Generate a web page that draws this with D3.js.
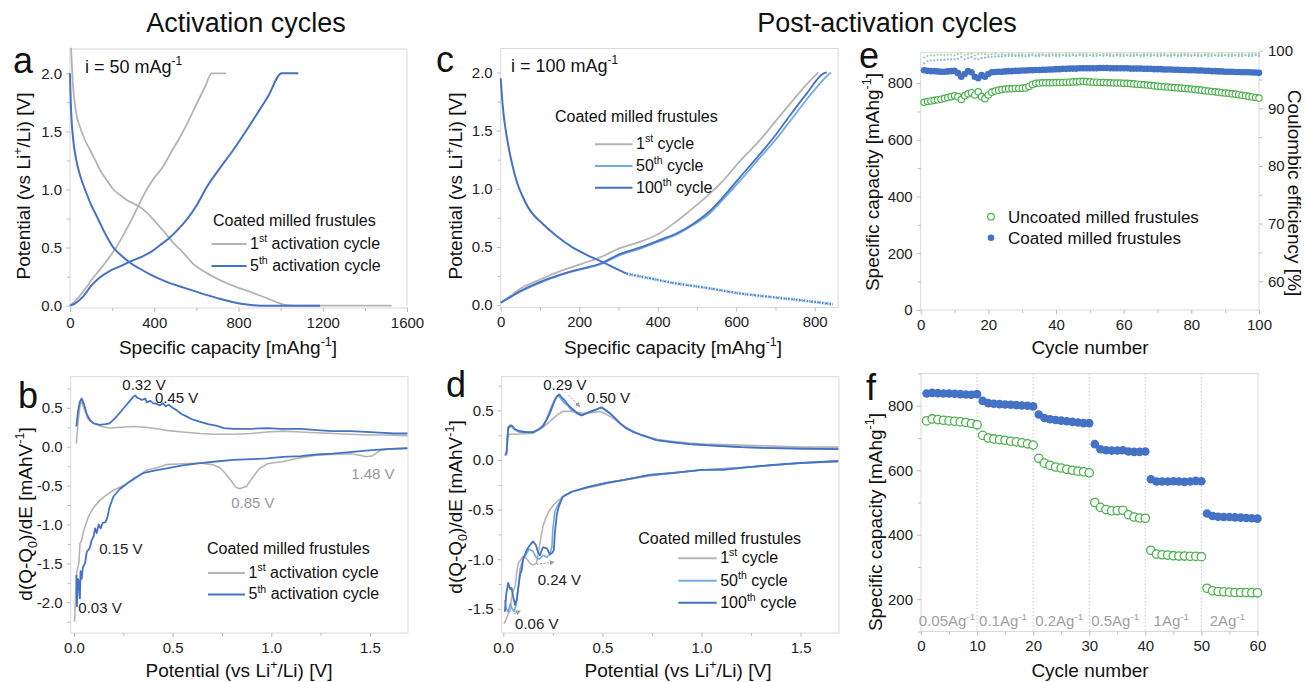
<!DOCTYPE html>
<html>
<head>
<meta charset="utf-8">
<script src="https://cdn.jsdelivr.net/npm/d3@7"></script>
<style>
body { margin: 0; background: #fff; }
svg text { font-family: "Liberation Sans", Arial, sans-serif; }
</style>
</head>
<body>
<div id="fig"></div>
<script>
// ---------- panel a : galvanostatic profiles, activation (capacity, V) ----------
var aDis1 = [[5,2.22],[8,2.1],[14,1.9],[24,1.72],[36,1.6],[47,1.54],[70,1.43],[95,1.34],[120,1.25],[142,1.17],[175,1.08],[206,1.0],[240,0.95],[269,0.91],[300,0.88],[332,0.85],[365,0.8],[396,0.74],[440,0.65],[491,0.54],[540,0.45],[585,0.36],[650,0.28],[712,0.22],[790,0.16],[870,0.11],[940,0.06],[997,0.02],[1030,0.005],[1100,0],[1527,0]];
var aCh1 = [[0,0],[40,0.07],[79,0.16],[110,0.24],[142,0.31],[180,0.4],[222,0.51],[260,0.63],[301,0.77],[330,0.88],[364,1.0],[400,1.1],[443,1.2],[480,1.32],[522,1.45],[560,1.58],[602,1.74],[640,1.88],[673,2.0],[741,2.0]];
var aDis5 = [[0,2.0],[2,1.85],[6,1.65],[14,1.45],[28,1.27],[48,1.12],[71,1.0],[100,0.87],[135,0.74],[170,0.61],[206,0.5],[245,0.43],[285,0.37],[330,0.32],[380,0.27],[420,0.235],[459,0.205],[540,0.155],[617,0.11],[700,0.065],[775,0.03],[850,0.008],[902,0],[1187,0]];
var aCh5 = [[0,0],[25,0.02],[63,0.08],[100,0.17],[140,0.24],[190,0.3],[240,0.34],[285,0.38],[340,0.42],[390,0.47],[427,0.52],[470,0.58],[510,0.65],[554,0.74],[600,0.86],[649,1.02],[710,1.18],[775,1.34],[820,1.46],[870,1.6],[940,1.8],[1005,2.0],[1084,2.0]];

// ---------- panel b : dQ/dE activation (V, mAh/V) ----------
var bDe1 = [[0.012,0.04],[0.02,0.3],[0.03,0.52],[0.038,0.6],[0.05,0.5],[0.07,0.36],[0.1,0.3],[0.14,0.26],[0.18,0.24],[0.24,0.25],[0.3,0.26],[0.36,0.25],[0.42,0.23],[0.47,0.21],[0.55,0.19],[0.64,0.17],[0.72,0.16],[0.81,0.16],[0.9,0.17],[0.98,0.19],[1.06,0.2],[1.15,0.19],[1.23,0.18],[1.31,0.17],[1.4,0.16],[1.48,0.15],[1.58,0.15],[1.69,0.14]];
var bDe5 = [[0.012,0.26],[0.02,0.45],[0.03,0.58],[0.039,0.62],[0.05,0.55],[0.065,0.42],[0.081,0.34],[0.1,0.3],[0.13,0.28],[0.16,0.29],[0.18,0.3],[0.21,0.37],[0.23,0.43],[0.26,0.52],[0.28,0.58],[0.3,0.64],[0.31,0.66],[0.32,0.63],[0.33,0.62],[0.345,0.6],[0.36,0.62],[0.37,0.57],[0.385,0.59],[0.4,0.56],[0.42,0.55],[0.435,0.53],[0.45,0.56],[0.465,0.52],[0.48,0.54],[0.5,0.5],[0.52,0.47],[0.545,0.42],[0.57,0.39],[0.6,0.35],[0.64,0.32],[0.68,0.29],[0.72,0.27],[0.76,0.24],[0.81,0.23],[0.9,0.23],[0.98,0.24],[1.05,0.23],[1.15,0.23],[1.25,0.21],[1.31,0.2],[1.4,0.2],[1.48,0.19],[1.55,0.18],[1.62,0.17],[1.69,0.17]];
var bLi1 = [[0.003,-2.25],[0.008,-1.9],[0.015,-1.6],[0.025,-1.5],[0.03,-1.25],[0.039,-1.2],[0.047,-1.1],[0.056,-1.03],[0.07,-0.92],[0.081,-0.86],[0.1,-0.78],[0.13,-0.69],[0.16,-0.63],[0.2,-0.56],[0.25,-0.5],[0.3,-0.43],[0.34,-0.35],[0.37,-0.3],[0.42,-0.27],[0.47,-0.23],[0.55,-0.22],[0.64,-0.21],[0.7,-0.23],[0.74,-0.27],[0.77,-0.35],[0.8,-0.45],[0.82,-0.52],[0.84,-0.54],[0.86,-0.52],[0.875,-0.51],[0.89,-0.45],[0.91,-0.38],[0.94,-0.28],[0.98,-0.22],[1.06,-0.19],[1.15,-0.14],[1.23,-0.11],[1.31,-0.1],[1.4,-0.09],[1.45,-0.11],[1.48,-0.13],[1.51,-0.12],[1.55,-0.05],[1.6,-0.03],[1.69,-0.02]];
var bLi5 = [[0.012,-1.65],[0.015,-2.05],[0.02,-1.7],[0.025,-1.75],[0.03,-1.95],[0.033,-1.6],[0.039,-1.7],[0.045,-1.55],[0.056,-1.5],[0.065,-1.35],[0.075,-1.32],[0.081,-1.29],[0.09,-1.2],[0.1,-1.15],[0.107,-1.05],[0.115,-1.11],[0.125,-1.0],[0.135,-1.05],[0.145,-0.98],[0.16,-0.97],[0.17,-0.9],[0.18,-0.78],[0.2,-0.64],[0.23,-0.55],[0.27,-0.47],[0.31,-0.4],[0.35,-0.34],[0.4,-0.31],[0.47,-0.28],[0.55,-0.24],[0.64,-0.21],[0.72,-0.19],[0.81,-0.17],[0.9,-0.16],[0.98,-0.15],[1.06,-0.13],[1.15,-0.12],[1.23,-0.1],[1.31,-0.09],[1.4,-0.07],[1.48,-0.05],[1.58,-0.03],[1.69,-0.02]];
var bNotes = [["0.32 V",0.355,0.73,"#222"],["0.45 V",0.52,0.565,"#222"],["0.85 V",0.907,-0.79,"#999"],["1.48 V",1.515,-0.415,"#999"],["0.15 V",0.238,-1.375,"#222"],["0.03 V",0.132,-2.14,"#222"]];

// ---------- panel c : galvanostatic profiles, post-activation ----------
var cDis100 = [[0,1.95],[3,1.8],[7,1.65],[13,1.5],[20,1.36],[30,1.2],[42,1.05],[55,0.94],[70,0.84],[85,0.77],[100,0.72],[140,0.6],[181,0.5],[220,0.43],[253,0.38],[290,0.32],[321,0.27],[380,0.23],[440,0.19],[520,0.15],[610,0.1],[700,0.065],[780,0.035],[847,0.006]];
var cCh1 = [[0,0.02],[25,0.08],[50,0.14],[100,0.22],[150,0.29],[202,0.35],[253,0.41],[304,0.49],[360,0.55],[406,0.62],[440,0.7],[474,0.79],[520,0.92],[567,1.07],[610,1.24],[661,1.42],[700,1.58],[737,1.73],[775,1.88],[809,2.0]];
var cCh50 = [[0,0.02],[25,0.07],[50,0.115],[100,0.19],[150,0.255],[202,0.305],[253,0.35],[304,0.43],[360,0.49],[406,0.55],[450,0.61],[491,0.69],[530,0.78],[567,0.91],[610,1.07],[661,1.27],[700,1.42],[737,1.58],[780,1.77],[820,1.93],[841,2.0]];
var cCh100 = [[0,0.02],[25,0.07],[50,0.12],[100,0.2],[150,0.26],[202,0.31],[253,0.355],[304,0.44],[360,0.5],[406,0.56],[450,0.62],[491,0.7],[530,0.8],[567,0.93],[610,1.1],[661,1.3],[700,1.46],[737,1.63],[780,1.82],[822,1.99],[831,2.0]];

// ---------- panel d : dQ/dE post-activation ----------
var dDe1 = [[0.01,0.05],[0.017,0.1],[0.022,0.22],[0.03,0.26],[0.068,0.26],[0.15,0.27],[0.2,0.33],[0.235,0.39],[0.27,0.45],[0.3,0.49],[0.33,0.49],[0.35,0.49],[0.4,0.47],[0.45,0.48],[0.49,0.49],[0.52,0.46],[0.555,0.42],[0.6,0.35],[0.656,0.29],[0.7,0.25],[0.774,0.21],[0.85,0.19],[0.94,0.17],[1.02,0.16],[1.2,0.15],[1.36,0.14],[1.5,0.13],[1.69,0.13]];
var dDe50 = [[0.01,0.04],[0.017,0.08],[0.022,0.26],[0.027,0.32],[0.04,0.34],[0.06,0.3],[0.084,0.28],[0.12,0.28],[0.15,0.28],[0.18,0.31],[0.2,0.35],[0.22,0.42],[0.235,0.5],[0.25,0.57],[0.262,0.62],[0.275,0.65],[0.29,0.62],[0.305,0.58],[0.325,0.55],[0.345,0.5],[0.37,0.47],[0.395,0.45],[0.42,0.47],[0.446,0.5],[0.47,0.51],[0.49,0.53],[0.51,0.51],[0.535,0.47],[0.56,0.43],[0.59,0.37],[0.62,0.32],[0.656,0.28],[0.7,0.25],[0.774,0.2],[0.85,0.18],[0.94,0.16],[1.02,0.15],[1.11,0.14],[1.2,0.13],[1.36,0.12],[1.5,0.115],[1.69,0.11]];
var dDe100 = [[0.01,0.05],[0.017,0.07],[0.022,0.25],[0.025,0.33],[0.035,0.35],[0.042,0.35],[0.06,0.31],[0.084,0.29],[0.12,0.28],[0.15,0.28],[0.18,0.31],[0.2,0.34],[0.22,0.41],[0.235,0.47],[0.25,0.55],[0.26,0.6],[0.27,0.64],[0.283,0.66],[0.295,0.63],[0.31,0.6],[0.325,0.56],[0.345,0.52],[0.37,0.48],[0.395,0.45],[0.42,0.47],[0.446,0.49],[0.47,0.51],[0.497,0.53],[0.52,0.5],[0.54,0.47],[0.565,0.42],[0.59,0.37],[0.62,0.32],[0.656,0.285],[0.7,0.25],[0.774,0.2],[0.85,0.18],[0.94,0.16],[1.02,0.15],[1.11,0.14],[1.2,0.13],[1.36,0.12],[1.5,0.115],[1.69,0.11]];
var dLi1 = [[0.005,-1.65],[0.015,-1.6],[0.025,-1.55],[0.034,-1.52],[0.045,-1.35],[0.06,-1.27],[0.07,-1.1],[0.076,-1.04],[0.09,-1.0],[0.1,-0.97],[0.12,-1.0],[0.135,-1.04],[0.15,-1.06],[0.168,-1.04],[0.18,-0.9],[0.19,-0.78],[0.2,-0.67],[0.215,-0.58],[0.235,-0.5],[0.26,-0.44],[0.3,-0.37],[0.345,-0.32],[0.43,-0.28],[0.52,-0.24],[0.61,-0.2],[0.74,-0.16],[0.86,-0.13],[1.0,-0.1],[1.25,-0.07],[1.5,-0.03],[1.69,-0.02]];
var dLi50 = [[0.008,-1.41],[0.015,-1.5],[0.025,-1.53],[0.035,-1.45],[0.045,-1.5],[0.055,-1.53],[0.065,-1.45],[0.075,-1.3],[0.085,-1.1],[0.1,-1.0],[0.115,-0.95],[0.13,-0.9],[0.15,-0.92],[0.165,-0.98],[0.18,-1.0],[0.2,-0.96],[0.22,-0.98],[0.235,-0.95],[0.245,-0.88],[0.25,-0.7],[0.26,-0.52],[0.28,-0.44],[0.3,-0.37],[0.345,-0.32],[0.43,-0.27],[0.52,-0.23],[0.61,-0.2],[0.74,-0.15],[0.86,-0.13],[1.0,-0.1],[1.25,-0.07],[1.5,-0.03],[1.69,-0.01]];
var dLi100 = [[0.008,-1.53],[0.015,-1.35],[0.025,-1.24],[0.035,-1.3],[0.042,-1.29],[0.05,-1.38],[0.059,-1.46],[0.068,-1.41],[0.075,-1.3],[0.085,-1.15],[0.093,-1.11],[0.1,-1.0],[0.11,-0.95],[0.118,-0.91],[0.13,-0.87],[0.15,-0.82],[0.165,-0.86],[0.175,-0.93],[0.185,-0.96],[0.2,-0.88],[0.22,-0.89],[0.235,-0.95],[0.245,-0.94],[0.255,-0.91],[0.26,-0.74],[0.27,-0.55],[0.28,-0.47],[0.3,-0.37],[0.345,-0.32],[0.43,-0.27],[0.52,-0.23],[0.61,-0.2],[0.74,-0.15],[0.86,-0.13],[1.0,-0.1],[1.11,-0.1],[1.25,-0.07],[1.36,-0.05],[1.5,-0.03],[1.69,-0.01]];
var dNotes = [["0.29 V",0.311,0.706],["0.50 V",0.53,0.578],["0.24 V",0.283,-1.26],["0.06 V",0.169,-1.707]];
var dArrows = [[0.33,0.655,0.385,0.54],[0.168,-1.05,0.255,-1.03],[0.055,-1.55,0.085,-1.52]];

// ---------- panel e : long cycling (cycle 1..100) ----------
var eCoated = [845,843,842,842,841,840,840,841,842,843, 835,822,832,842,838,822,817,828,822,832,
  838,839,840,840,841,842,842,843,843,844, 844,845,845,846,846,847,847,848,848,849,
  849,850,850,851,851,851,852,852,852,852, 852,852,853,853,853,852,852,852,852,852,
  852,851,851,851,851,850,850,850,849,849, 849,848,848,848,847,847,846,846,845,845,
  845,844,844,843,843,842,842,841,841,840, 840,840,839,839,838,838,838,837,837,836];
var eUncoated = [732,735,737,739,741,743,746,749,752,755, 752,742,756,762,766,758,769,752,745,758,
  768,772,775,777,779,780,780,781,781,782, 783,788,795,799,800,801,801,801,801,802,
  802,802,803,803,804,804,805,806,805,804, 803,803,802,802,801,801,800,800,800,799,
  799,798,797,796,795,794,793,792,790,789, 788,787,786,785,784,783,782,781,780,779,
  777,776,775,773,772,770,769,768,766,765, 764,762,761,759,757,755,753,751,749,747];
var ceUncoated = [98.8,99.1,99.2,99.2,99.3,99.3,99.2,99.3,99.3,99.2, 99.4,99.5,99.3,99.4,99.5,99.2,99.4,99.5,99.4,99.3,
  99.4,99.5,99.3,99.4,99.3,99.4,99.4,99.3,99.4,99.4, 99.3,99.4,99.4,99.3,99.4,99.4,99.3,99.4,99.4,99.4,
  99.4,99.3,99.4,99.4,99.4,99.3,99.4,99.4,99.4,99.3, 99.4,99.4,99.3,99.4,99.4,99.4,99.3,99.4,99.4,99.4,
  99.3,99.4,99.4,99.4,99.3,99.4,99.4,99.4,99.3,99.4, 99.4,99.4,99.3,99.4,99.4,99.3,99.4,99.4,99.4,99.3,
  99.4,99.4,99.3,99.4,99.4,99.4,99.3,99.4,99.4,99.3, 99.4,99.4,99.3,99.4,99.4,99.3,99.4,99.4,99.4,99.5];
var ceCoated = [97.8,98.2,98.3,98.3,98.4,98.4,98.4,98.5,98.5,98.5, 98.6,98.9,98.5,98.7,98.9,98.6,98.5,98.7,98.8,98.9,
  98.9,99.0,99.0,99.0,99.1,99.1,99.1,99.1,99.1,99.1, 99.0,99.1,99.2,99.1,99.1,99.2,99.1,99.1,99.2,99.1,
  99.1,99.2,99.1,99.1,99.2,99.1,99.2,99.1,99.1,99.2, 99.1,99.1,99.2,99.1,99.2,99.1,99.1,99.2,99.1,99.1,
  99.2,99.1,99.1,99.2,99.1,99.1,99.2,99.1,99.2,99.1, 99.1,99.2,99.1,99.1,99.2,99.1,99.1,99.2,99.1,99.1,
  99.2,99.1,99.1,99.2,99.1,99.1,99.2,99.1,99.1,99.2, 99.1,99.1,99.2,99.1,99.1,99.2,99.1,99.1,99.2,99.1];

// ---------- panel f : rate capability (cycle 1..60) ----------
var fCoated = [838,840,839,838,838,837,836,835,834,836, 815,808,806,805,804,803,802,801,800,798,
  773,762,758,756,754,752,750,748,746,746, 681,665,662,661,661,662,658,657,657,658,
  572,565,565,565,566,565,564,565,567,566, 466,458,456,455,455,454,453,452,451,450];
var fUncoated = [753,759,757,755,753,752,750,748,745,741, 708,700,697,695,693,690,688,685,682,678,
  637,622,615,610,607,603,600,597,595,592, 500,485,478,474,475,476,462,455,452,451,
  352,340,338,337,335,334,334,333,333,332, 234,226,224,223,222,221,221,221,220,220];
var fRates = ["0.05Ag", "0.1Ag", "0.2Ag", "0.5Ag", "1Ag", "2Ag"];

var GRAY = '#b4b4b4', BLUE = '#4472c4', LBLUE = '#74aae3', GREEN = '#4cb14e';

var svg = d3.select('#fig').append('svg').attr('width', 1306).attr('height', 682);

// text with super/subscripts. parts: strings or [str,'sup'|'sub']
function rich(t, parts, size) {
  var cur = 0;
  parts.forEach(function(p) {
    var s = typeof p === 'string' ? p : p[0];
    var kind = typeof p === 'string' ? '' : p[1];
    var want = kind === 'sup' ? -0.42 * size : kind === 'sub' ? 0.28 * size : 0;
    var ts = t.append('tspan').text(s).attr('dy', want - cur);
    if (kind) ts.attr('font-size', size * 0.66);
    cur = want;
  });
  return t;
}
function label(x, y, parts, size, opt) {
  opt = opt || {};
  var t = svg.append('text').attr('font-size', size).attr('fill', opt.fill || '#111')
    .attr('text-anchor', opt.anchor || 'start');
  if (opt.rot) t.attr('transform', 'translate(' + x + ',' + y + ') rotate(' + opt.rot + ')');
  else t.attr('x', x).attr('y', y);
  return rich(t, parts, size);
}

function styleAxis(g, fs) {
  g.attr('font-size', fs).attr('font-family', null);
  g.select('.domain').remove();
  g.selectAll('line').attr('stroke', '#bdbdbd');
  g.selectAll('text').attr('fill', '#222');
}

function panel(o) {
  var x = d3.scaleLinear().domain(o.xd).range([o.l, o.r]);
  var y = d3.scaleLinear().domain(o.yd).range([o.b, o.t]);
  var g = svg.append('g');
  g.append('rect').attr('x', o.l).attr('y', o.t).attr('width', o.r - o.l).attr('height', o.b - o.t)
    .attr('fill', 'none').attr('stroke', '#dadada');
  var fx = o.fx || function(d) { return d; };
  var fy = o.fy || function(d) { return d; };
  var gx = g.append('g').attr('transform', 'translate(0,' + o.b + ')')
    .call(d3.axisBottom(x).tickValues(o.xt).tickSize(4).tickPadding(5).tickFormat(fx));
  styleAxis(gx, 15);
  var gy = g.append('g').attr('transform', 'translate(' + o.l + ',0)')
    .call(d3.axisLeft(y).tickValues(o.yt).tickSize(4).tickPadding(4).tickFormat(fy));
  styleAxis(gy, 15);
  if (o.xm) styleAxis(g.append('g').attr('transform', 'translate(0,' + o.b + ')')
    .call(d3.axisBottom(x).tickValues(o.xm).tickSize(3).tickFormat('')), 15);
  if (o.ym) styleAxis(g.append('g').attr('transform', 'translate(' + o.l + ',0)')
    .call(d3.axisLeft(y).tickValues(o.ym).tickSize(3).tickFormat('')), 15);
  return { x: x, y: y, g: g };
}

function curve(p, data, color, w, smooth, dash) {
  var line = d3.line().x(function(d) { return p.x(d[0]); }).y(function(d) { return p.y(d[1]); });
  if (smooth) line.curve(d3.curveMonotoneX);
  var path = p.g.append('path').datum(data).attr('d', line).attr('fill', 'none')
    .attr('stroke', color).attr('stroke-width', w).attr('stroke-linejoin', 'round');
  if (dash) path.attr('stroke-dasharray', dash);
  return path;
}

function legendLine(x1, x2, yy, color, parts) {
  svg.append('line').attr('x1', x1).attr('x2', x2).attr('y1', yy).attr('y2', yy)
    .attr('stroke', color).attr('stroke-width', 2);
  label(x2 + 3.5, yy + 4.8, parts, 16);
}

var f1 = function(d) { return d.toFixed(1); };

// ---------------- titles and panel letters ----------------
label(246, 32, ['Activation cycles'], 27, { anchor: 'middle' });
label(887, 32, ['Post-activation cycles'], 27, { anchor: 'middle' });
[['a', 13, 73], ['b', 18, 408], ['c', 436, 72], ['d', 446, 397], ['e', 859, 68], ['f', 866, 400]]
  .forEach(function(l) { label(l[1], l[2], [l[0]], 36); });

// ---------------- panel a ----------------
var pa = panel({ l: 70, r: 407, t: 49, b: 308, xd: [0, 1600], yd: [-0.02, 2.209],
  xt: [0, 400, 800, 1200, 1600], xm: [200, 600, 1000, 1400],
  yt: [0, 0.5, 1, 1.5, 2], ym: [0.25, 0.75, 1.25, 1.75], fy: f1 });
curve(pa, aDis1, GRAY, 1.8, true);
curve(pa, aCh1, GRAY, 1.8, true);
curve(pa, aDis5, BLUE, 2, true);
curve(pa, aCh5, BLUE, 2, true);
label(85, 73, ['i = 50 mAg', ['-1', 'sup']], 18);
label(213, 226, ['Coated milled frustules'], 16);
legendLine(211.5, 246.5, 244, GRAY, ['1', ['st', 'sup'], ' activation cycle']);
legendLine(211.5, 246.5, 266, BLUE, ['5', ['th', 'sup'], ' activation cycle']);
label(228, 354, ['Specific capacity [mAhg', ['-1', 'sup'], ']'], 19, { anchor: 'middle' });
label(30, 186, ['Potential (vs Li', ['+', 'sup'], '/Li) [V]'], 19, { anchor: 'middle', rot: -90 });

// ---------------- panel b ----------------
var pb = panel({ l: 70.7, r: 408, t: 376.7, b: 633, xd: [-0.0167, 1.693], yd: [-2.395, 0.9],
  xt: [0, 0.5, 1, 1.5], xm: [0.25, 0.75, 1.25], yt: [-2, -1.5, -1, -0.5, 0, 0.5],
  ym: [-2.25, -1.75, -1.25, -0.75, -0.25, 0.25, 0.75], fx: f1, fy: f1 });
curve(pb, bDe1, GRAY, 1.6);
curve(pb, bLi1, GRAY, 1.6);
curve(pb, bDe5, BLUE, 1.8);
curve(pb, bLi5, BLUE, 1.8);
bNotes.forEach(function(n) {
  label(pb.x(n[1]), pb.y(n[2]), [n[0]], 15, { anchor: 'middle', fill: n[3] });
});
label(207, 554, ['Coated milled frustules'], 16);
legendLine(208, 245, 573, GRAY, ['1', ['st', 'sup'], ' activation cycle']);
legendLine(208, 245, 594.5, BLUE, ['5', ['th', 'sup'], ' activation cycle']);
label(239, 677, ['Potential (vs Li', ['+', 'sup'], '/Li) [V]'], 19, { anchor: 'middle' });
label(32, 514, ['d(Q-Q', ['0', 'sub'], ')/dE [mAhV', ['-1', 'sup'], ']'], 19, { anchor: 'middle', rot: -90 });

// ---------------- panel c ----------------
var pc = panel({ l: 500.7, r: 838, t: 48.5, b: 307.5, xd: [0, 859.4], yd: [-0.021, 2.206],
  xt: [0, 200, 400, 600, 800], xm: [100, 300, 500, 700],
  yt: [0, 0.5, 1, 1.5, 2], ym: [0.25, 0.75, 1.25, 1.75], fy: f1 });
curve(pc, cCh1, GRAY, 1.8, true);
curve(pc, cCh50, LBLUE, 1.8, true);
curve(pc, cCh100, BLUE, 1.8, true);
curve(pc, cDis100.filter(function(d) { return d[0] <= 321; }), BLUE, 2, true);
curve(pc, cDis100.filter(function(d) { return d[0] >= 321; }), LBLUE, 3, true, '1.4,1.2');
curve(pc, cDis100.filter(function(d) { return d[0] >= 321; }), BLUE, 1.6, true, '1.4,2.4');
label(511, 72, ['i = 100 mAg', ['-1', 'sup']], 18);
label(555, 122, ['Coated milled frustules'], 16);
legendLine(595, 632.5, 144.3, GRAY, ['1', ['st', 'sup'], ' cycle']);
legendLine(595, 632.5, 166, LBLUE, ['50', ['th', 'sup'], ' cycle']);
legendLine(595, 632.5, 187.7, BLUE, ['100', ['th', 'sup'], ' cycle']);
label(673, 354, ['Specific capacity [mAhg', ['-1', 'sup'], ']'], 19, { anchor: 'middle' });
label(462, 186, ['Potential (vs Li', ['+', 'sup'], '/Li) [V]'], 19, { anchor: 'middle', rot: -90 });

// ---------------- panel d ----------------
var pd = panel({ l: 501.7, r: 839, t: 376.7, b: 633, xd: [-0.008, 1.694], yd: [-1.744, 0.84],
  xt: [0, 0.5, 1, 1.5], xm: [0.25, 0.75, 1.25], yt: [-1.5, -1, -0.5, 0, 0.5],
  ym: [-1.25, -0.75, -0.25, 0.25, 0.75], fx: f1, fy: f1 });
curve(pd, dDe1, GRAY, 1.6);
curve(pd, dLi1, GRAY, 1.6);
curve(pd, dDe50, LBLUE, 1.6);
curve(pd, dLi50, LBLUE, 1.6);
curve(pd, dDe100, BLUE, 1.8);
curve(pd, dLi100, BLUE, 1.8);
svg.append('defs').append('marker').attr('id', 'ah').attr('viewBox', '0 0 6 6')
  .attr('refX', 5).attr('refY', 3).attr('markerWidth', 5).attr('markerHeight', 5).attr('orient', 'auto')
  .append('path').attr('d', 'M0,0L6,3L0,6Z').attr('fill', '#999');
dArrows.forEach(function(a) {
  pd.g.append('line').attr('x1', pd.x(a[0])).attr('y1', pd.y(a[1])).attr('x2', pd.x(a[2])).attr('y2', pd.y(a[3]))
    .attr('stroke', '#999').attr('stroke-width', 1).attr('stroke-dasharray', '2,1.5').attr('marker-end', 'url(#ah)');
});
dNotes.forEach(function(n) { label(pd.x(n[1]), pd.y(n[2]), [n[0]], 15, { anchor: 'middle', fill: '#222' }); });
label(638.3, 543.5, ['Coated milled frustules'], 16);
legendLine(678.3, 716.7, 558.3, GRAY, ['1', ['st', 'sup'], ' cycle']);
legendLine(678.3, 716.7, 580.7, LBLUE, ['50', ['th', 'sup'], ' cycle']);
legendLine(678.3, 716.7, 602.7, BLUE, ['100', ['th', 'sup'], ' cycle']);
label(678, 677, ['Potential (vs Li', ['+', 'sup'], '/Li) [V]'], 19, { anchor: 'middle' });
label(462, 507, ['d(Q-Q', ['0', 'sub'], ')/dE [mAhV', ['-1', 'sup'], ']'], 19, { anchor: 'middle', rot: -90 });

// ---------------- panel e ----------------
var pe = panel({ l: 920.7, r: 1259, t: 52.7, b: 310, xd: [0, 100], yd: [0, 907],
  xt: [0, 20, 40, 60, 80, 100], xm: [10, 30, 50, 70, 90],
  yt: [0, 200, 400, 600, 800], ym: [100, 300, 500, 700] });
var yR = d3.scaleLinear().domain([55, 100]).range([310, 50.7]);
var gr = pe.g.append('g').attr('transform', 'translate(1259,0)')
  .call(d3.axisRight(yR).tickValues([60, 70, 80, 90, 100]).tickSize(4).tickPadding(5));
styleAxis(gr, 15);
styleAxis(pe.g.append('g').attr('transform', 'translate(1259,0)')
  .call(d3.axisRight(yR).tickValues([65, 75, 85, 95]).tickSize(3).tickFormat('')), 15);
pe.g.append('g').selectAll('circle').data(ceCoated).enter().append('circle')
  .attr('cx', function(d, i) { return pe.x(i + 1); }).attr('cy', function(d) { return yR(d); })
  .attr('r', 1.1).attr('fill', '#8db6e6');
pe.g.append('g').selectAll('circle').data(ceUncoated).enter().append('circle')
  .attr('cx', function(d, i) { return pe.x(i + 1); }).attr('cy', function(d) { return yR(d); })
  .attr('r', 1.1).attr('fill', '#9fd39f');
pe.g.append('g').selectAll('circle').data(eUncoated).enter().append('circle')
  .attr('cx', function(d, i) { return pe.x(i + 1); }).attr('cy', function(d) { return pe.y(d); })
  .attr('r', 3.2).attr('fill', '#fff').attr('stroke', GREEN).attr('stroke-width', 1.2);
pe.g.append('g').selectAll('circle').data(eCoated).enter().append('circle')
  .attr('cx', function(d, i) { return pe.x(i + 1); }).attr('cy', function(d) { return pe.y(d); })
  .attr('r', 3.3).attr('fill', BLUE);
svg.append('circle').attr('cx', 991).attr('cy', 216.7).attr('r', 3.3).attr('fill', '#fff').attr('stroke', GREEN).attr('stroke-width', 1.2);
svg.append('circle').attr('cx', 991).attr('cy', 237.7).attr('r', 3.3).attr('fill', BLUE);
label(1008, 222.8, ['Uncoated milled frustules'], 17);
label(1008, 243.8, ['Coated milled frustules'], 17);
label(1090, 354, ['Cycle number'], 19, { anchor: 'middle' });
label(879, 182, ['Specific capacity [mAhg', ['-1', 'sup'], ']'], 19, { anchor: 'middle', rot: -90 });
label(1288, 193, ['Coulombic efficiency [%]'], 19, { anchor: 'middle', rot: 90 });

// ---------------- panel f ----------------
var pf = panel({ l: 921, r: 1258, t: 373.5, b: 631.5, xd: [0, 60.1], yd: [100, 900],
  xt: [0, 10, 20, 30, 40, 50, 60], xm: [5, 15, 25, 35, 45, 55],
  yt: [200, 400, 600, 800], ym: [100, 300, 500, 700, 900] });
[10, 20, 30, 40, 50].forEach(function(c) {
  pf.g.append('line').attr('x1', pf.x(c)).attr('x2', pf.x(c)).attr('y1', pf.y(900)).attr('y2', pf.y(100))
    .attr('stroke', '#c8c8c8').attr('stroke-dasharray', '1.5,2');
});
pf.g.append('g').selectAll('circle').data(fUncoated).enter().append('circle')
  .attr('cx', function(d, i) { return pf.x(i + 1); }).attr('cy', function(d) { return pf.y(d); })
  .attr('r', 4.2).attr('fill', '#fff').attr('stroke', GREEN).attr('stroke-width', 1.3);
pf.g.append('g').selectAll('circle').data(fCoated).enter().append('circle')
  .attr('cx', function(d, i) { return pf.x(i + 1); }).attr('cy', function(d) { return pf.y(d); })
  .attr('r', 4.3).attr('fill', BLUE);
fRates.forEach(function(r, i) {
  label(pf.x(i * 10 + 5) - 2, 626, [r, ['-1', 'sup']], 15, { anchor: 'middle', fill: '#a0a0a0' });
});
label(1090, 677, ['Cycle number'], 19, { anchor: 'middle' });
label(882, 522, ['Specific capacity [mAhg', ['-1', 'sup'], ']'], 19, { anchor: 'middle', rot: -90 });
</script>
</body>
</html>
